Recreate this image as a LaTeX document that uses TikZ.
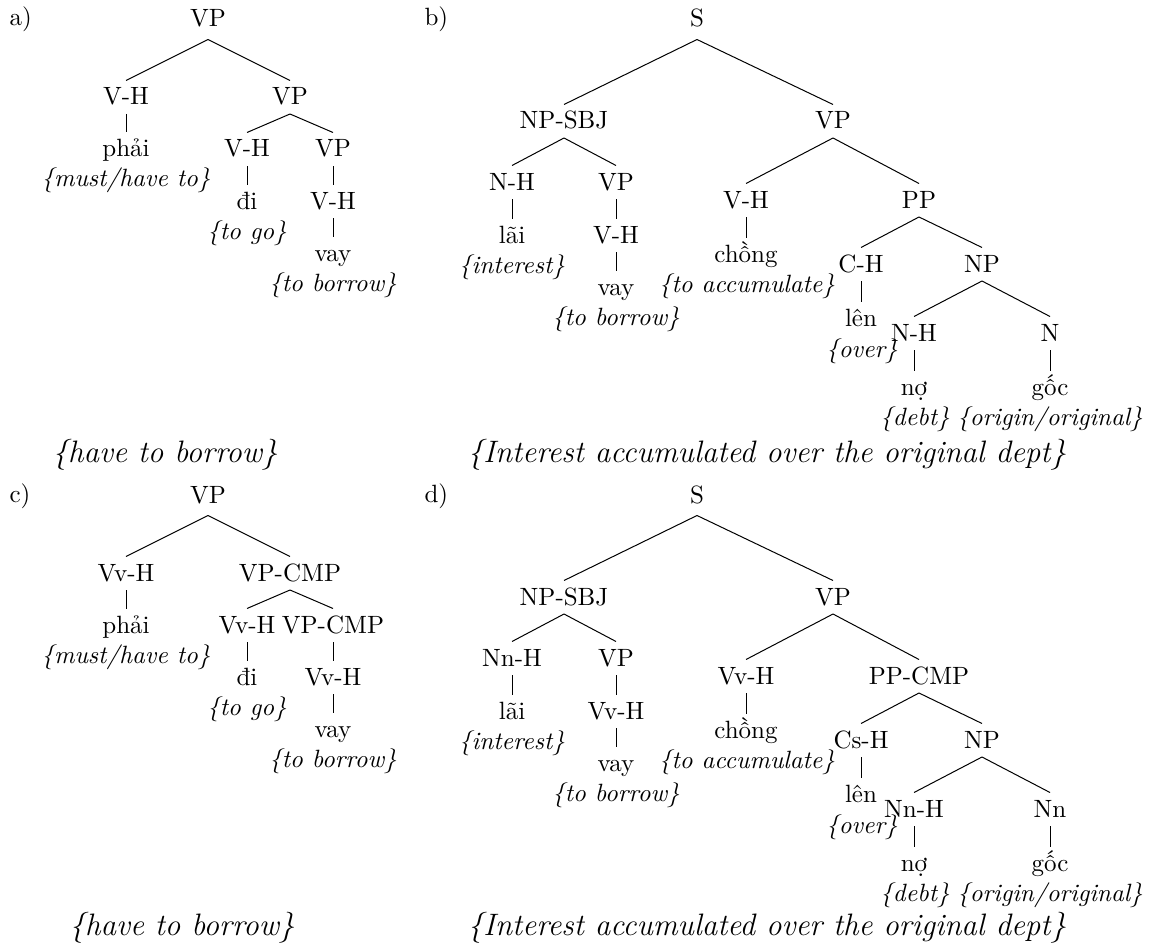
\documentclass[tikz,border=0pt]{standalone}
\usepackage{fontspec}
\begin{document}
\begin{tikzpicture}[x=0.4pt,y=-0.4pt,
  lab/.style={inner sep=0pt,anchor=base,text height=9.6pt,text depth=3.4pt,font=\fontsize{10pt}{12pt}\selectfont},
  rootlab/.style={lab,text depth=4.8pt},
  gloss/.style={inner sep=0pt,anchor=base,font=\fontsize{10pt}{12pt}\selectfont\itshape},
  capt/.style={inner sep=0pt,anchor=base,font=\fontsize{12.4pt}{15pt}\selectfont\itshape},
  tag/.style={inner sep=0pt,anchor=base west,font=\fontsize{10pt}{12pt}\selectfont},
  branch/.style={line width=0.4pt}]
\useasboundingbox (0,0) rectangle (1158,946);

% ---------- a) ----------
\node[tag] (ta) at (9,26) {a)};
\node[rootlab] (aR) at (208,27) {VP};
\node[lab] (aA) at (126,105) {V-H};
\node[lab] (aB) at (290,105) {VP};
\node[lab] (aAw) at (126,157) {phải};
\node[gloss] (aAg) at (126,187) {\{must/have to\}};
\node[lab] (aC) at (247,157) {V-H};
\node[lab] (aD) at (333,157) {VP};
\node[lab] (aCw) at (247,209) {đi};
\node[gloss] (aCg) at (247,239) {\{to go\}};
\node[lab] (aE) at (333,209) {V-H};
\node[lab] (aEw) at (333,261) {vay};
\node[gloss] (aEg) at (333,291) {\{to borrow\}};
\node[capt] (aT) at (165,462) {\{have to borrow\}};
\draw[branch] (aR.south) -- (aA.north);
\draw[branch] (aR.south) -- (aB.north);
\draw[branch] (aA.south) -- (aAw.north);
\draw[branch] (aB.south) -- (aC.north);
\draw[branch] (aB.south) -- (aD.north);
\draw[branch] (aC.south) -- (aCw.north);
\draw[branch] (aD.south) -- (aE.north);
\draw[branch] (aE.south) -- (aEw.north);

% ---------- b) ----------
\node[tag] (tb) at (424,26) {b)};
\node[rootlab] (bR) at (697,27) {S};
\node[lab] (bN) at (564,129) {NP-SBJ};
\node[lab] (bV) at (833,129) {VP};
\node[lab] (bNH) at (512,190) {N-H};
\node[lab] (bNV) at (616,190) {VP};
\node[lab] (bNHw) at (512,243) {lãi};
\node[gloss] (bNHg) at (512,273) {\{interest\}};
\node[lab] (bNVH) at (616,243) {V-H};
\node[lab] (bNVHw) at (616,295) {vay};
\node[gloss] (bNVHg) at (616,325) {\{to borrow\}};
\node[lab] (bVH) at (746,208) {V-H};
\node[lab] (bPP) at (919,208) {PP};
\node[lab] (bVHw) at (746,262) {chồng};
\node[gloss] (bVHg) at (747,292) {\{to accumulate\}};
\node[lab] (bCH) at (861,272) {C-H};
\node[lab] (bNP) at (982,272) {NP};
\node[lab] (bCHw) at (861,326) {lên};
\node[gloss] (bCHg) at (862,357) {\{over\}};
\node[lab] (bH) at (914,341) {N-H};
\node[lab] (bM) at (1050,341) {N};
\node[lab] (bHw) at (914,395) {nợ};
\node[gloss] (bHg) at (915,425) {\{debt\}};
\node[lab] (bMw) at (1050,395) {gốc};
\node[gloss] (bMg) at (1050,425) {\{origin/original\}};
\node[capt] (bT) at (767,462) {\{Interest accumulated over the original dept\}};
\draw[branch] (bR.south) -- (bN.north);
\draw[branch] (bR.south) -- (bV.north);
\draw[branch] (bN.south) -- (bNH.north);
\draw[branch] (bN.south) -- (bNV.north);
\draw[branch] (bNH.south) -- (bNHw.north);
\draw[branch] (bNV.south) -- (bNVH.north);
\draw[branch] (bNVH.south) -- (bNVHw.north);
\draw[branch] (bV.south) -- (bVH.north);
\draw[branch] (bV.south) -- (bPP.north);
\draw[branch] (bVH.south) -- (bVHw.north);
\draw[branch] (bPP.south) -- (bCH.north);
\draw[branch] (bPP.south) -- (bNP.north);
\draw[branch] (bCH.south) -- (bCHw.north);
\draw[branch] (bNP.south) -- (bH.north);
\draw[branch] (bNP.south) -- (bM.north);
\draw[branch] (bH.south) -- (bHw.north);
\draw[branch] (bM.south) -- (bMw.north);

% ---------- c) ----------
\begin{scope}[shift={(0,476)}]
\node[tag] (tc) at (9,26) {c)};
\node[rootlab] (cR) at (208,27) {VP};
\node[lab] (cA) at (126,105) {Vv-H};
\node[lab] (cB) at (290,105) {VP-CMP};
\node[lab] (cAw) at (126,157) {phải};
\node[gloss] (cAg) at (126,187) {\{must/have to\}};
\node[lab] (cC) at (247,157) {Vv-H};
\node[lab] (cD) at (333,157) {VP-CMP};
\node[lab] (cCw) at (247,209) {đi};
\node[gloss] (cCg) at (247,239) {\{to go\}};
\node[lab] (cE) at (333,209) {Vv-H};
\node[lab] (cEw) at (333,261) {vay};
\node[gloss] (cEg) at (333,291) {\{to borrow\}};
\node[capt] (cT) at (182,459) {\{have to borrow\}};
\draw[branch] (cR.south) -- (cA.north);
\draw[branch] (cR.south) -- (cB.north);
\draw[branch] (cA.south) -- (cAw.north);
\draw[branch] (cB.south) -- (cC.north);
\draw[branch] (cB.south) -- (cD.north);
\draw[branch] (cC.south) -- (cCw.north);
\draw[branch] (cD.south) -- (cE.north);
\draw[branch] (cE.south) -- (cEw.north);
\end{scope}

% ---------- d) ----------
\begin{scope}[shift={(0,476)}]
\node[tag] (td) at (424,26) {d)};
\node[rootlab] (dR) at (697,27) {S};
\node[lab] (dN) at (564,129) {NP-SBJ};
\node[lab] (dV) at (833,129) {VP};
\node[lab] (dNH) at (512,190) {Nn-H};
\node[lab] (dNV) at (616,190) {VP};
\node[lab] (dNHw) at (512,243) {lãi};
\node[gloss] (dNHg) at (512,273) {\{interest\}};
\node[lab] (dNVH) at (616,243) {Vv-H};
\node[lab] (dNVHw) at (616,295) {vay};
\node[gloss] (dNVHg) at (616,325) {\{to borrow\}};
\node[lab] (dVH) at (746,208) {Vv-H};
\node[lab] (dPP) at (919,208) {PP-CMP};
\node[lab] (dVHw) at (746,262) {chồng};
\node[gloss] (dVHg) at (747,292) {\{to accumulate\}};
\node[lab] (dCH) at (861,272) {Cs-H};
\node[lab] (dNP) at (982,272) {NP};
\node[lab] (dCHw) at (861,326) {lên};
\node[gloss] (dCHg) at (862,357) {\{over\}};
\node[lab] (dH) at (914,341) {Nn-H};
\node[lab] (dM) at (1050,341) {Nn};
\node[lab] (dHw) at (914,395) {nợ};
\node[gloss] (dHg) at (915,425) {\{debt\}};
\node[lab] (dMw) at (1050,395) {gốc};
\node[gloss] (dMg) at (1050,425) {\{origin/original\}};
\node[capt] (dT) at (767,459) {\{Interest accumulated over the original dept\}};
\draw[branch] (dR.south) -- (dN.north);
\draw[branch] (dR.south) -- (dV.north);
\draw[branch] (dN.south) -- (dNH.north);
\draw[branch] (dN.south) -- (dNV.north);
\draw[branch] (dNH.south) -- (dNHw.north);
\draw[branch] (dNV.south) -- (dNVH.north);
\draw[branch] (dNVH.south) -- (dNVHw.north);
\draw[branch] (dV.south) -- (dVH.north);
\draw[branch] (dV.south) -- (dPP.north);
\draw[branch] (dVH.south) -- (dVHw.north);
\draw[branch] (dPP.south) -- (dCH.north);
\draw[branch] (dPP.south) -- (dNP.north);
\draw[branch] (dCH.south) -- (dCHw.north);
\draw[branch] (dNP.south) -- (dH.north);
\draw[branch] (dNP.south) -- (dM.north);
\draw[branch] (dH.south) -- (dHw.north);
\draw[branch] (dM.south) -- (dMw.north);
\end{scope}
\end{tikzpicture}
\end{document}
